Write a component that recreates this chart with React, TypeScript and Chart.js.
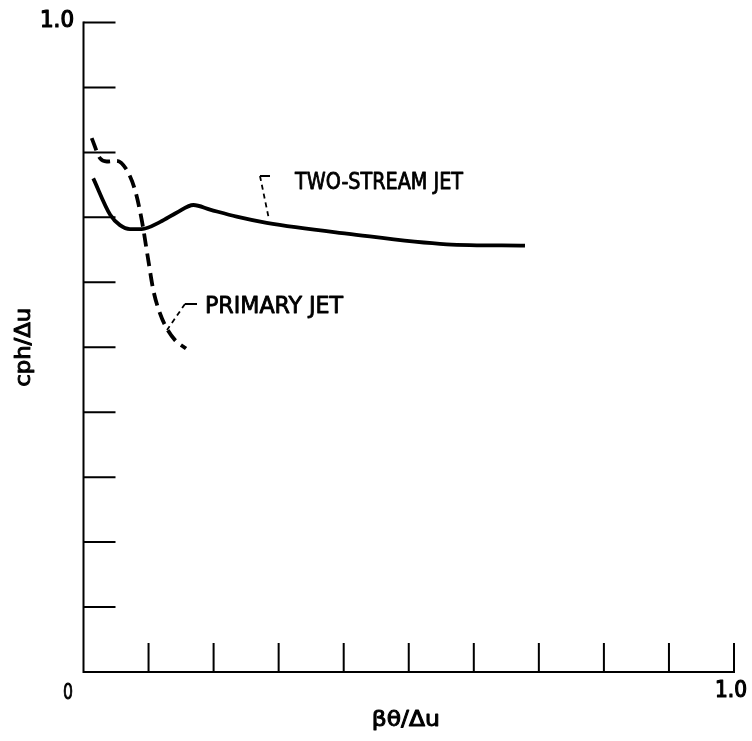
import React, { useEffect, useRef } from "react";
import { Chart, registerables } from "chart.js";

Chart.register(...registerables);

// Two-stream jet (solid curve)
const twoStreamX = [0.015, 0.041, 0.056, 0.0715, 0.0895, 0.118, 0.143, 0.169, 0.1945, 0.2355, 0.2816, 0.4046, 0.5583, 0.6787];
const twoStreamY = [0.760, 0.704, 0.688, 0.682, 0.682, 0.693, 0.707, 0.719, 0.712, 0.701, 0.6915, 0.675, 0.6585, 0.6564];

// Primary jet (dashed curve)
const primaryX = [0.0126, 0.0254, 0.0357, 0.051, 0.0664, 0.0792, 0.0895, 0.0996, 0.1073, 0.1176, 0.128, 0.1407, 0.1576];
const primaryY = [0.822, 0.791, 0.786, 0.787, 0.773, 0.742, 0.696, 0.634, 0.588, 0.552, 0.529, 0.511, 0.498];

// Leader lines (annotation pointers)
const twoStreamLeaderX = [0.2867, 0.2713, 0.2844];
const twoStreamLeaderY = [0.7637, 0.7637, 0.7005];
const primaryLeaderX = [0.1745, 0.156, 0.1284];
const primaryLeaderY = [0.5666, 0.5666, 0.5266];

// Curve labels (left edge x, middle y) in data units
const curveLabels = ["TWO-STREAM JET", "PRIMARY JET"];
const curveLabelX = [0.3251, 0.1868];
const curveLabelY = [0.7524, 0.5612];

// Axis ticks
const xTicks = [0.1, 0.2, 0.3, 0.4, 0.5, 0.6, 0.7, 0.8, 0.9, 1.0];
const yTicks = [0.1, 0.2, 0.3, 0.4, 0.5, 0.6, 0.7, 0.8, 0.9, 1.0];
const xTitle = "βθ/Δu";
const yTitle = "cph/Δu";
const originLabel = "0";
const xMaxLabel = "1.0";
const yMaxLabel = "1.0";

const toPts = (xs: number[], ys: number[]) => xs.map((x, i) => ({ x, y: ys[i] }));

const FONT = "'DejaVu Sans Condensed', 'DejaVu Sans', sans-serif";

function drawFit(ctx: CanvasRenderingContext2D, text: string, x: number, y: number, size: number, width: number, align: "left" | "center" | "right", stroke = 0.7) {
  ctx.save();
  ctx.font = `${size}px ${FONT}`;
  const w = ctx.measureText(text).width;
  const sx = width / w;
  ctx.translate(x, y);
  ctx.scale(sx, 1);
  ctx.textAlign = align;
  ctx.textBaseline = "middle";
  ctx.fillStyle = "#000";
  ctx.fillText(text, 0, 0);
  if (stroke > 0) {
    ctx.strokeStyle = "#000";
    ctx.lineWidth = stroke;
    ctx.lineJoin = "round";
    ctx.strokeText(text, 0, 0);
  }
  ctx.restore();
}

const decorPlugin = {
  id: "decor",
  afterDatasetsDraw(chart: any) {
    const ctx: CanvasRenderingContext2D = chart.ctx;
    const xs = chart.scales.x;
    const ys = chart.scales.y;
    const x0 = xs.getPixelForValue(0);
    const x1 = xs.getPixelForValue(1);
    const y0 = ys.getPixelForValue(0);
    const y1 = ys.getPixelForValue(1);
    ctx.save();
    ctx.strokeStyle = "#000";
    ctx.lineWidth = 2;
    ctx.lineCap = "butt";
    ctx.beginPath();
    ctx.moveTo(x0, y1 - 1);
    ctx.lineTo(x0, y0);
    ctx.lineTo(x1 + 1, y0);
    ctx.stroke();
    // inward ticks
    ctx.beginPath();
    yTicks.forEach((v) => {
      const p = ys.getPixelForValue(v);
      ctx.moveTo(x0, p);
      ctx.lineTo(x0 + 32, p);
    });
    xTicks.forEach((v) => {
      const p = xs.getPixelForValue(v);
      ctx.moveTo(p, y0);
      ctx.lineTo(p, y0 - 29);
    });
    ctx.stroke();
    ctx.restore();

    // tick labels
    drawFit(ctx, yMaxLabel, x0 - 9.5, y1 - 1, 23, 34, "right", 1.2);
    drawFit(ctx, originLabel, x0 - 15.5, y0 + 21, 22, 10, "center", 0.8);
    drawFit(ctx, xMaxLabel, x1 - 3, y0 + 19.5, 23, 32, "center", 1.2);

    // axis titles
    drawFit(ctx, xTitle, (x0 + x1) / 2 - 3, y0 + 49, 21, 68, "center", 0.9);
    ctx.save();
    ctx.translate(25, (y0 + y1) / 2);
    ctx.rotate(-Math.PI / 2);
    drawFit(ctx, yTitle, 0, 0, 21, 79, "center", 0.9);
    ctx.restore();

    // curve labels
    const widths = [168, 138];
    curveLabels.forEach((t, i) => {
      drawFit(ctx, t, xs.getPixelForValue(curveLabelX[i]), ys.getPixelForValue(curveLabelY[i]), 23, widths[i], "left", 0.8);
    });
  },
};

export default function App() {
  const ref = useRef<HTMLCanvasElement | null>(null);
  useEffect(() => {
    document.body.style.margin = "0";
    const canvas = ref.current!;
    const leaderSegment = { borderDash: (c: any) => (c.p0DataIndex === 0 ? [] : [5, 4]) };
    const chart = new Chart(canvas, {
      type: "line",
      data: {
        datasets: [
          {
            label: "TWO-STREAM JET",
            data: toPts(twoStreamX, twoStreamY),
            borderColor: "#000",
            borderWidth: 3.8,
            pointRadius: 0,
            cubicInterpolationMode: "monotone",
            fill: false,
          },
          {
            label: "PRIMARY JET",
            data: toPts(primaryX, primaryY),
            borderColor: "#000",
            borderWidth: 3.8,
            borderDash: [13, 7],
            pointRadius: 0,
            cubicInterpolationMode: "monotone",
            fill: false,
          },
          {
            label: "leader1",
            data: toPts(twoStreamLeaderX, twoStreamLeaderY),
            borderColor: "#000",
            borderWidth: 1.8,
            pointRadius: 0,
            tension: 0,
            segment: leaderSegment,
            fill: false,
          },
          {
            label: "leader2",
            data: toPts(primaryLeaderX, primaryLeaderY),
            borderColor: "#000",
            borderWidth: 1.8,
            pointRadius: 0,
            tension: 0,
            segment: leaderSegment,
            fill: false,
          },
        ],
      } as any,
      options: {
        animation: false,
        responsive: false,
        layout: { padding: { left: 83.5, top: 22.5, right: 18, bottom: 69 } },
        plugins: { legend: { display: false }, tooltip: { enabled: false } },
        scales: {
          x: { type: "linear", min: 0, max: 1, display: false },
          y: { type: "linear", min: 0, max: 1, display: false },
        },
      } as any,
      plugins: [decorPlugin],
    });
    return () => chart.destroy();
  }, []);
  return (
    <div style={{ width: 752, height: 741, background: "#fff" }}>
      <canvas ref={ref} width={752} height={741} style={{ display: "block" }} />
    </div>
  );
}
